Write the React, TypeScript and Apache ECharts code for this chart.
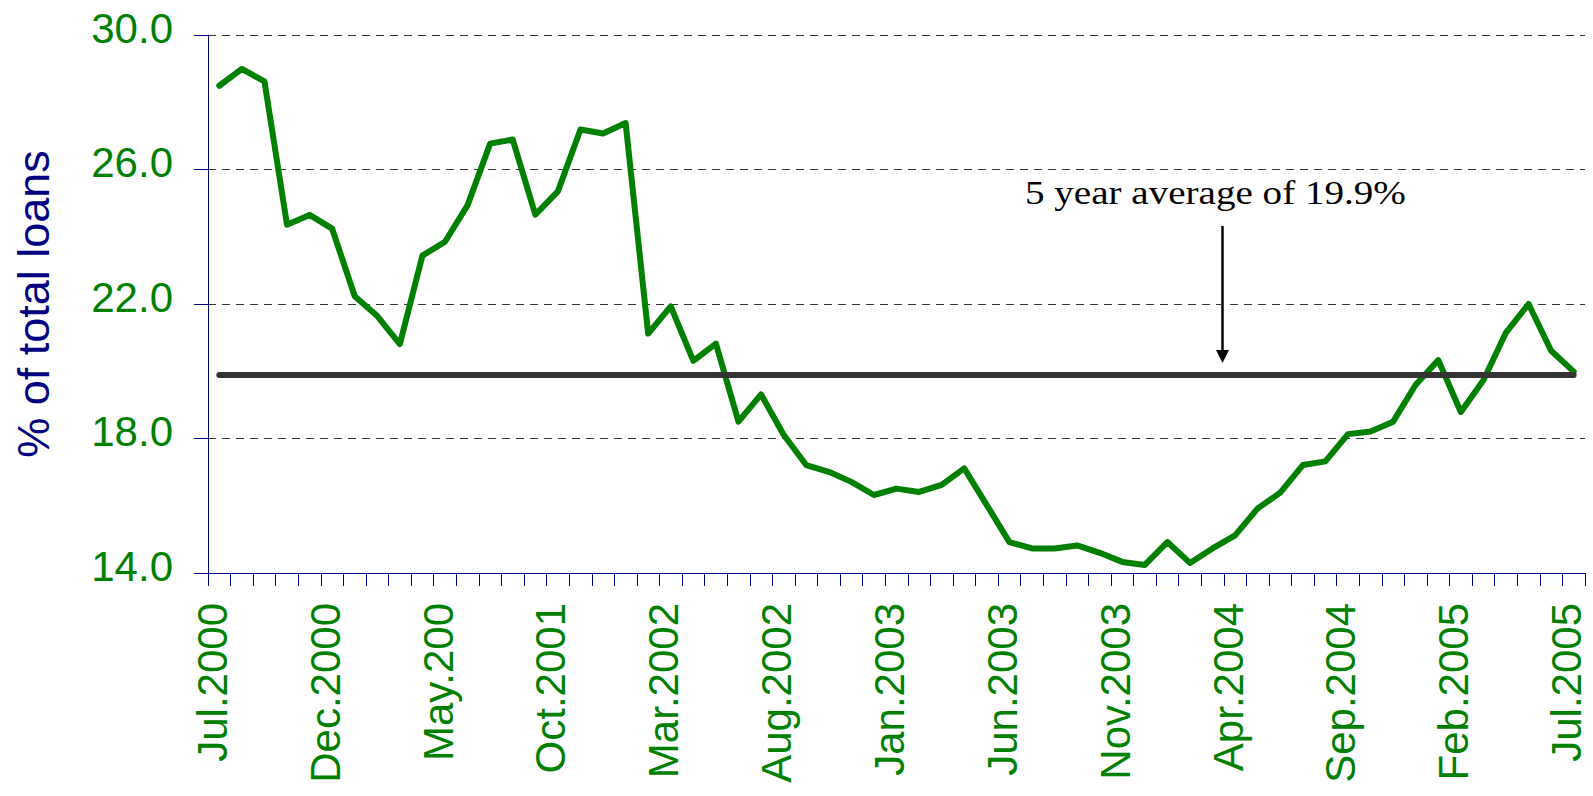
import React, { useEffect, useRef } from "react";
import * as echarts from "echarts";

const MONTHS: string[] = [
  "Jul.2000", "Aug.2000", "Sep.2000", "Oct.2000", "Nov.2000", "Dec.2000",
  "Jan.2001", "Feb.2001", "Mar.2001", "Apr.2001", "May.200", "Jun.2001",
  "Jul.2001", "Aug.2001", "Sep.2001", "Oct.2001", "Nov.2001", "Dec.2001",
  "Jan.2002", "Feb.2002", "Mar.2002", "Apr.2002", "May.2002", "Jun.2002",
  "Jul.2002", "Aug.2002", "Sep.2002", "Oct.2002", "Nov.2002", "Dec.2002",
  "Jan.2003", "Feb.2003", "Mar.2003", "Apr.2003", "May.2003", "Jun.2003",
  "Jul.2003", "Aug.2003", "Sep.2003", "Oct.2003", "Nov.2003", "Dec.2003",
  "Jan.2004", "Feb.2004", "Mar.2004", "Apr.2004", "May.2004", "Jun.2004",
  "Jul.2004", "Aug.2004", "Sep.2004", "Oct.2004", "Nov.2004", "Dec.2004",
  "Jan.2005", "Feb.2005", "Mar.2005", "Apr.2005", "May.2005", "Jun.2005",
  "Jul.2005",
];

const SHARE_OF_LOANS: number[] = [
  28.49, 28.99, 28.62, 24.36, 24.65, 24.24, 22.23, 21.64, 20.81, 23.44,
  23.85, 24.94, 26.77, 26.89, 24.66, 25.35, 27.19, 27.07, 27.38, 21.12,
  21.93, 20.31, 20.82, 18.5, 19.31, 18.11, 17.21, 17.01, 16.71, 16.32,
  16.51, 16.41, 16.62, 17.11, 16.02, 14.92, 14.73, 14.73, 14.82, 14.6,
  14.33, 14.24, 14.92, 14.3, 14.73, 15.12, 15.92, 16.39, 17.21, 17.32,
  18.13, 18.21, 18.5, 19.6, 20.33, 18.79, 19.73, 21.15, 22.0, 20.61,
  19.99,
];

const FIVE_YEAR_AVERAGE = 19.9;
const ANNOTATION = "5 year average of 19.9%";
const Y_NAME = "% of total loans";

export default function App() {
  const ref = useRef<HTMLDivElement>(null);

  useEffect(() => {
    document.body.style.margin = "0";
    const chart = echarts.init(ref.current!, null, { renderer: "svg" });
    const navy = "#000080";
    const green = "#008000";
    const labelRich = {
      t: {
        color: green,
        fontFamily: "Liberation Sans",
        fontSize: 42,
        lineHeight: 46,
      },
      s: { fontSize: 1, lineHeight: 14 },
    };
    chart.setOption({
      animation: false,
      backgroundColor: "#ffffff",
      grid: {
        left: 208,
        right: 8,
        top: 35,
        bottom: 223,
        containLabel: false,
        outerBoundsMode: "none",
      },
      xAxis: {
        type: "category",
        data: MONTHS,
        boundaryGap: true,
        axisLine: { show: true, lineStyle: { color: navy, width: 1 } },
        axisTick: {
          show: true,
          interval: 0,
          length: 13,
          lineStyle: { color: navy, width: 1 },
        },
        axisLabel: {
          interval: 4,
          rotate: 90,
          margin: 30,
          formatter: (v: string) => "{t|" + v + "}\n{s| }",
          rich: labelRich,
        },
        splitLine: { show: false },
      },
      yAxis: {
        type: "value",
        min: 14,
        max: 30,
        interval: 4,
        name: Y_NAME,
        nameLocation: "middle",
        nameRotate: 90,
        nameGap: 152,
        nameTextStyle: {
          color: navy,
          fontFamily: "Liberation Sans",
          fontSize: 45,
        },
        axisLine: { show: true, lineStyle: { color: navy, width: 1 } },
        axisTick: { show: true, length: 14, lineStyle: { color: navy, width: 1 } },
        axisLabel: {
          margin: 35,
          formatter: (v: number) => "{t|" + v.toFixed(1) + "}\n{s| }",
          rich: labelRich,
        },
        splitLine: {
          show: true,
          lineStyle: { color: "#333333", width: 1, type: [8, 6] },
        },
      },
      series: [
        {
          type: "line",
          data: SHARE_OF_LOANS,
          symbol: "none",
          lineStyle: { color: green, width: 6, cap: "round", join: "round" },
          z: 3,
          markLine: {
            silent: true,
            symbol: ["none", "none"],
            label: { show: false },
            lineStyle: { color: "#333333", width: 6, type: "solid", cap: "round" },
            data: [
              [
                { coord: [0, FIVE_YEAR_AVERAGE] },
                { coord: [MONTHS.length - 1, FIVE_YEAR_AVERAGE] },
              ],
            ],
          },
        },
      ],
      graphic: [
        {
          type: "text",
          x: 1025,
          y: 175,
          scaleX: 1.15,
          style: {
            text: ANNOTATION,
            font: '34px "Liberation Serif"',
            fill: "#000000",
            textVerticalAlign: "top",
          },
        },
        {
          type: "line",
          shape: { x1: 1222.5, y1: 226, x2: 1222.5, y2: 352 },
          style: { stroke: "#000000", lineWidth: 2.5 },
        },
        {
          type: "polygon",
          shape: { points: [[1216, 350], [1229, 350], [1222.5, 363]] },
          style: { fill: "#000000" },
        },
      ],
    });
    return () => chart.dispose();
  }, []);

  return <div ref={ref} style={{ width: 1593, height: 796 }} />;
}
